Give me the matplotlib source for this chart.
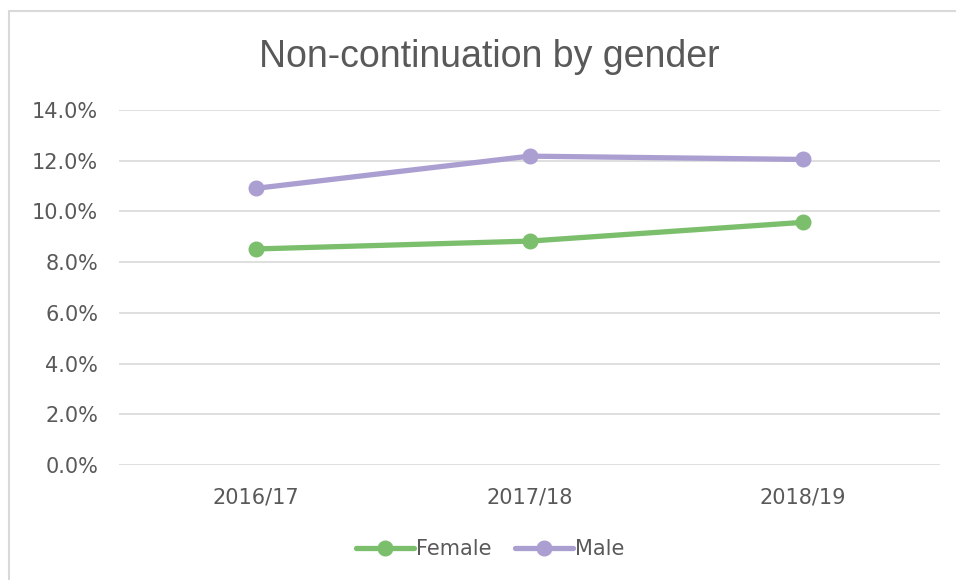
import matplotlib.pyplot as plt
from matplotlib.patches import Rectangle
from matplotlib.ticker import FuncFormatter

years = ["2016/17", "2017/18", "2018/19"]
female = [8.52, 8.83, 9.57]
male = [10.91, 12.18, 12.05]

green = "#7bbf6c"
purple = "#ab9fd1"
txt = "#595959"

plt.rcParams['font.family'] = ['DejaVu Sans']

fig = plt.figure(figsize=(9.56, 5.8), dpi=100)
# outer chart frame, running off the right and bottom edges
fig.patches.append(Rectangle((9 / 956, -20 / 580), 980 / 956, 589 / 580,
                             transform=fig.transFigure, fill=False,
                             edgecolor="#d9d9d9", linewidth=1.5))

ax = fig.add_axes([119 / 956, (580 - 465) / 580, 821 / 956, 355 / 580])
x = range(len(years))
ax.plot(x, female, color=green, lw=3.8, marker="o", ms=10.5, label="Female",
        solid_capstyle="round")
ax.plot(x, male, color=purple, lw=3.8, marker="o", ms=10.5, label="Male",
        solid_capstyle="round")

ax.set_xlim(-0.5, 2.5)
ax.set_ylim(0, 14)
ax.set_yticks(range(0, 15, 2))
ax.yaxis.set_major_formatter(FuncFormatter(lambda v, p: f"{v:.1f}%"))
ax.set_xticks(list(x))
ax.set_xticklabels(years)
ax.grid(axis="y", color="#d9d9d9", lw=1.2)
ax.set_axisbelow(True)
for s in ax.spines.values():
    s.set_visible(False)
ax.tick_params(length=0, colors=txt, labelsize=15)
ax.tick_params(axis="y", pad=15)
ax.tick_params(axis="x", pad=16)

fig.text(489 / 956, 1 - 57 / 580, "Non-continuation by gender", ha="center",
         va="center", fontsize=27, color=txt, family="Liberation Sans")

fig.legend(loc="center", bbox_to_anchor=(490 / 956, 1 - 549 / 580), ncol=2,
           frameon=False, fontsize=15, labelcolor=txt, handlelength=2.8,
           columnspacing=1.1, handletextpad=0.1)

fig.savefig("out.png", dpi=100)
